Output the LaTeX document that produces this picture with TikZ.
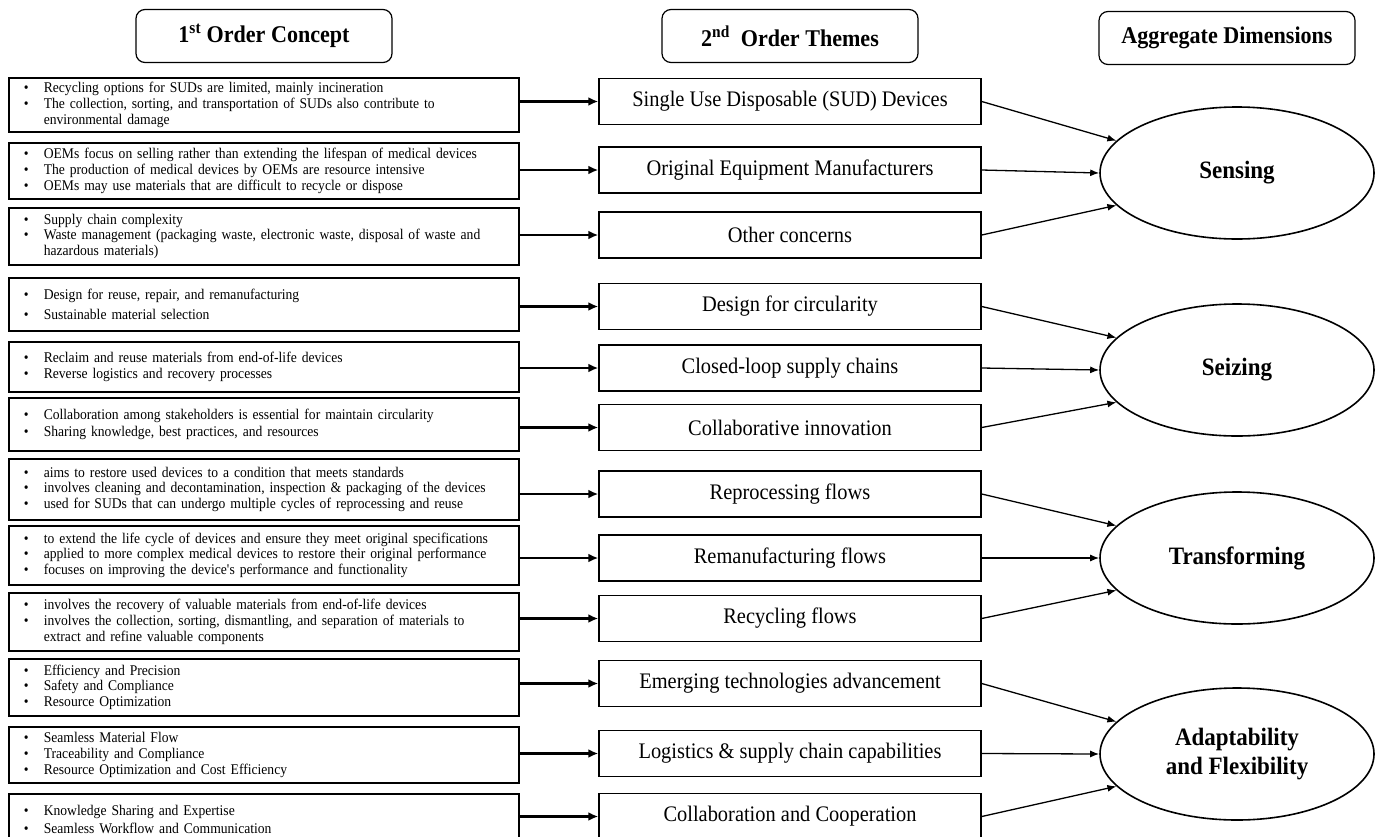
\documentclass[tikz,border=0pt]{standalone}
\usepackage{fontspec}
\setmainfont{Liberation Serif}[FakeStretch=0.92]
\usetikzlibrary{arrows.meta,positioning,shapes.geometric}

\newcommand{\itm}{\makebox[20pt][l]{\textbullet}}
\newcommand{\cont}{\hspace*{20pt}}

\begin{document}
\begin{tikzpicture}[x=1pt, y=-1pt, >=Latex, line width=1.4pt,
    hdr/.style={draw, rounded corners=9pt, line width=1.2pt, minimum width=256pt, minimum height=53pt, font=\bfseries\fontsize{24}{28}\selectfont},
    concept/.style={draw, line width=1.6pt, anchor=north west, text width=480pt, inner xsep=15pt, inner ysep=0pt, align=left, font=\fontsize{14.8}{15.8}\selectfont},
    theme/.style={draw, line width=1.5pt, minimum width=382pt, minimum height=46pt, font=\fontsize{22.2}{26}\selectfont},
    dim/.style={draw, ellipse, line width=1.6pt, inner sep=0pt, minimum width=274pt, minimum height=132pt, align=center, font=\bfseries\fontsize{25}{29}\selectfont},
    feed/.style={-{Latex[length=10pt,width=9pt]}, line width=2.8pt},
    link/.style={-{Latex[length=9pt,width=7pt]}, line width=1.3pt}]
    \useasboundingbox (0,0) rectangle (1376,836);
    \clip (0,0) rectangle (1376,836);

    \node[hdr] (h1) at (264,36) {1\textsuperscript{st} Order Concept};
    \node[hdr] (h2) at (790,36) {2\textsuperscript{nd}~ Order Themes};
    \node[hdr] (h3) at (1227,38) {Aggregate Dimensions};

    \node[concept, minimum height=54pt] (c1) at (8,77) {\itm Recycling options for SUDs are limited, mainly incineration\\
      \itm The collection, sorting, and transportation of SUDs also contribute to\\
      \cont environmental damage};
    \node[concept, minimum height=56pt] (c2) at (8,142) {\itm OEMs focus on selling rather than extending the lifespan of medical devices\\
      \itm The production of medical devices by OEMs are resource intensive\\
      \itm OEMs may use materials that are difficult to recycle or dispose};
    \node[concept, minimum height=57pt] (c3) at (8,207) {\itm Supply chain complexity\\
      \itm Waste management (packaging waste, electronic waste, disposal of waste and\\
      \cont hazardous materials)};
    \node[concept, minimum height=53pt] (c4) at (8,277) {\itm Design for reuse, repair, and remanufacturing\\[4pt]
      \itm Sustainable material selection};
    \node[concept, minimum height=50pt] (c5) at (8,341) {\itm Reclaim and reuse materials from end-of-life devices\\
      \itm Reverse logistics and recovery processes};
    \node[concept, minimum height=53pt] (c6) at (8,397) {\itm Collaboration among stakeholders is essential for maintain circularity\\[2pt]
      \itm Sharing knowledge, best practices, and resources};
    \node[concept, minimum height=61pt] (c7) at (8,458) {\itm aims to restore used devices to a condition that meets standards\\
      \itm involves cleaning and decontamination, inspection \& packaging of the devices\\
      \itm used for SUDs that can undergo multiple cycles of reprocessing and reuse};
    \node[concept, minimum height=59pt] (c8) at (8,525) {\itm to extend the life cycle of devices and ensure they meet original specifications\\
      \itm applied to more complex medical devices to restore their original performance\\
      \itm focuses on improving the device\textquotesingle s performance and functionality};
    \node[concept, minimum height=58pt] (c9) at (8,592) {\itm involves the recovery of valuable materials from end-of-life devices\\
      \itm involves the collection, sorting, dismantling, and separation of materials to\\
      \cont extract and refine valuable components};
    \node[concept, minimum height=57pt] (c10) at (8,658) {\itm Efficiency and Precision\\
      \itm Safety and Compliance\\
      \itm Resource Optimization};
    \node[concept, minimum height=56pt] (c11) at (8,726) {\itm Seamless Material Flow\\
      \itm Traceability and Compliance\\
      \itm Resource Optimization and Cost Efficiency};
    \node[concept, minimum height=52pt] (c12) at (8,793) {\itm Knowledge Sharing and Expertise\\[2pt]
      \itm Seamless Workflow and Communication};

    \foreach \n/\y/\txt in {1/101.5/{Single Use Disposable (SUD) Devices},
        2/170/{Original Equipment Manufacturers}, 3/235/{Other concerns},
        4/306.5/{Design for circularity}, 5/368/{Closed-loop supply chains},
        6/427.5/{Collaborative innovation}, 7/494/{Reprocessing flows},
        8/558/{Remanufacturing flows}, 9/618.5/{Recycling flows},
        10/683.5/{Emerging technologies advancement},
        11/753.5/{Logistics \& supply chain capabilities},
        12/816.5/{Collaboration and Cooperation}}
      \node[theme] (t\n) at (790,\y) {\txt};

    \node[dim] (d1) at (1237,173) {Sensing};
    \node[dim] (d2) at (1237,370) {Seizing};
    \node[dim] (d3) at (1237,558) {Transforming};
    \node[dim] (d4) at (1237,754) {Adaptability\\and Flexibility};

    \foreach \n in {1,...,12}
      \draw[feed] (c\n.east |- t\n.west) -- (t\n.west);

    \foreach \a/\b/\c/\d in {1/2/3/1, 4/5/6/2, 7/8/9/3, 10/11/12/4} {
      \draw[link] (t\a.east) -- (d\d.165);
      \draw[link] (t\b.east) -- (d\d.west);
      \draw[link] (t\c.east) -- (d\d.195);
    }
\end{tikzpicture}
\end{document}
